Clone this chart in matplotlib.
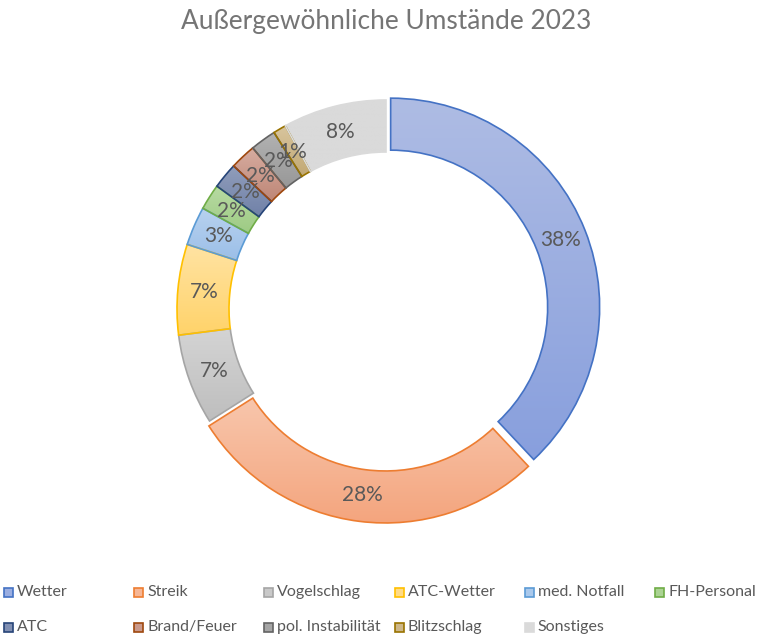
import numpy as np
import matplotlib
matplotlib.use("Agg")
import matplotlib.pyplot as plt
from matplotlib.patches import Rectangle
from matplotlib.colors import to_rgb

plt.rcParams['font.family'] = ['Lato', 'DejaVu Sans']

categories = ["Wetter", "Streik", "Vogelschlag", "ATC-Wetter", "med. Notfall", "FH-Personal",
              "ATC", "Brand/Feuer", "pol. Instabilität", "Blitzschlag", "Sonstiges"]
values = [38, 28, 7, 7, 3, 2, 2, 2, 2, 1, 8]
explode_px = [5, 5, 0, 0, 0, 0, 0, 0, 0, 0, 0]

top_colors = ["#AEBCE4", "#F8C6AC", "#D4D4D4", "#FFE3A3", "#B8D2EF", "#B8DAA3",
              "#909DBB", "#D6ACA0", "#B2B2B2", "#D8C59E", "#DADADA"]
bot_colors = ["#889FDD", "#F4A57E", "#BEBEBE", "#FFD36A", "#9CBFE8", "#9ECB84",
              "#7081A8", "#BE8676", "#989898", "#C2A974", "#DADADA"]
edge_colors = ["#4472C4", "#ED7D31", "#A5A5A5", "#FFC000", "#5B9BD5", "#70AD47",
               "#264478", "#9E480E", "#636363", "#997300", "#DADADA"]
title = "Außergewöhnliche Umstände 2023"

W, H = 757, 637
fig = plt.figure(figsize=(W / 100, H / 100), dpi=100)
fig.patch.set_facecolor("white")

R = 209.0
cx, cy = 386.0, H - 309.0
half = 1.25 * R
ax = fig.add_axes([(cx - half) / W, (cy - half) / H, 2 * half / W, 2 * half / H])

explode = [e / R for e in explode_px]
wedges, _, autotexts = ax.pie(
    values, startangle=90, counterclock=False, explode=explode,
    radius=1.0, autopct=lambda p: f"{p:.0f}%", pctdistance=1 - 0.125,
    wedgeprops=dict(width=52 / R, linewidth=1.2),
    textprops=dict(color="#595959", fontsize=15))

for w, tc, bc, ec in zip(wedges, top_colors, bot_colors, edge_colors):
    w.set_facecolor("none")
    w.set_edgecolor(ec)
    w.set_zorder(3)
    ext = w.get_path().get_extents()
    t = np.linspace(0, 1, 64)[:, None, None]
    grad = (1 - t) * np.array(to_rgb(bc))[None, None, :] + t * np.array(to_rgb(tc))[None, None, :]
    im = ax.imshow(grad, extent=[ext.x0, ext.x1, ext.y0, ext.y1], origin="lower",
                   aspect="auto", interpolation="bilinear", zorder=2)
    im.set_clip_path(w)

for t in autotexts:
    t.set_zorder(5)

ax.set_xlim(-1.25, 1.25)
ax.set_ylim(-1.25, 1.25)
ax.set_aspect("equal")
ax.axis("off")

fig.text(386 / W, 1 - 22 / H, title, ha="center", va="center",
         fontsize=18.9, color="#757575")

# legend
col_x = 4.0
col_w = 130.2
row_y = [592, 627]
for i, (cat, tc, bc, ec) in enumerate(zip(categories, top_colors, bot_colors, edge_colors)):
    r, c = divmod(i, 6)
    x = col_x + c * col_w
    y = row_y[r]
    mid = tuple((np.array(to_rgb(tc)) + np.array(to_rgb(bc))) / 2)
    fig.add_artist(Rectangle((x / W, (H - y - 4.5) / H), 9 / W, 9 / H,
                             transform=fig.transFigure, facecolor=mid,
                             edgecolor=ec, linewidth=1.2))
    fig.text((x + 13) / W, 1 - y / H, cat, ha="left", va="center",
             fontsize=11.5, color="#595959")

fig.savefig("out.png", dpi=100, facecolor="white")
